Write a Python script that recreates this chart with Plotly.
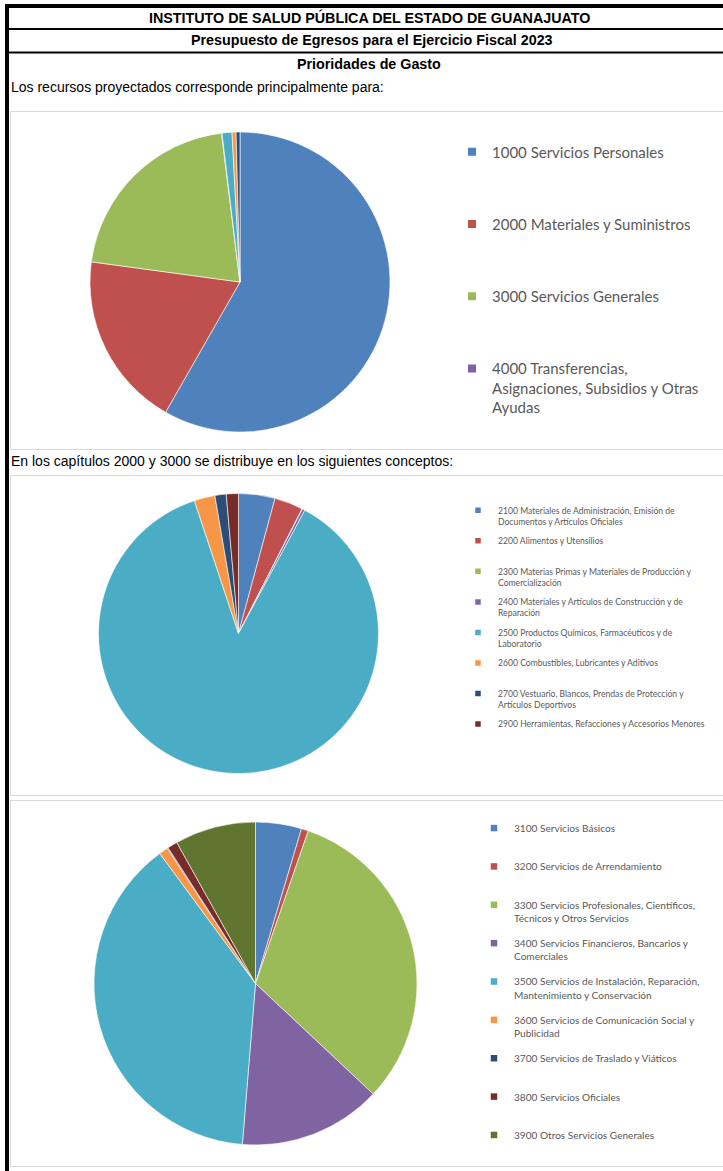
import plotly.graph_objects as go

W, H = 723, 1171

# ---------------- data ----------------
cap_labels = [
    "1000 Servicios Personales",
    "2000 Materiales y Suministros",
    "3000 Servicios Generales",
    "4000 Transferencias,<br>Asignaciones, Subsidios y Otras<br>Ayudas",
    "5000 Bienes Muebles, Inmuebles e Intangibles",
    "6000 Inversión Pública",
    "7000 Inversiones Financieras y Otras Provisiones",
]
cap_values = [58.3, 18.9, 20.9, 0.05, 1.07, 0.43, 0.42]
cap_legend_count = 4  # entries visible in the reference legend

c2000_labels = [
    "2100 Materiales de Administración, Emisión de<br>Documentos y Artículos Oficiales",
    "2200 Alimentos y Utensilios",
    "2300 Materias Primas y Materiales de Producción y<br>Comercialización",
    "2400 Materiales y Artículos de Construcción y de<br>Reparación",
    "2500 Productos Químicos, Farmacéuticos y de<br>Laboratorio",
    "2600 Combustibles, Lubricantes y Aditivos",
    "2700 Vestuario, Blancos, Prendas de Protección y<br>Artículos Deportivos",
    "2900 Herramientas, Refacciones y Accesorios Menores",
]
c2000_values = [4.2, 3.3, 0.05, 0.3, 87.0, 2.4, 1.3, 1.4]

c3000_labels = [
    "3100 Servicios Básicos",
    "3200 Servicios de Arrendamiento",
    "3300 Servicios Profesionales, Científicos,<br>Técnicos y Otros Servicios",
    "3400 Servicios Financieros, Bancarios y<br>Comerciales",
    "3500 Servicios de Instalación, Reparación,<br>Mantenimiento y Conservación",
    "3600 Servicios de Comunicación Social y<br>Publicidad",
    "3700 Servicios de Traslado y Viáticos",
    "3800 Servicios Oficiales",
    "3900 Otros Servicios Generales",
]
c3000_values = [4.6, 0.7, 31.7, 14.3, 38.6, 0.9, 0.1, 1.0, 8.1]

palette = ["#4F81BD", "#C0504D", "#9BBB59", "#8064A2", "#4BACC6",
           "#F79646", "#2C4D75", "#772C2A", "#5F7530"]

titles = [
    "INSTITUTO DE SALUD PÚBLICA DEL ESTADO DE GUANAJUATO",
    "Presupuesto de Egresos para el Ejercicio Fiscal 2023",
    "Prioridades de Gasto",
]
intro1 = "Los recursos proyectados corresponde principalmente para:"
intro2 = "En los capítulos 2000 y 3000 se distribuye en los siguientes conceptos:"

# ---------------- helpers ----------------
def fx(x):
    return x / W


def fy(y):
    return 1 - y / H


def flat(s):
    return s.replace("<br>", " ")


def pad2(s):
    return s if "<br>" in s else s + "<br>\u00a0"


fig = go.Figure()


def add_pie(labels, values, cx, cy, r):
    fig.add_trace(go.Pie(
        labels=[flat(l) for l in labels],
        values=values,
        sort=False,
        direction="clockwise",
        rotation=0,
        textinfo="none",
        showlegend=False,
        marker=dict(colors=palette[:len(values)], line=dict(color="white", width=0.6)),
        domain=dict(x=[fx(cx - r), fx(cx + r)], y=[fy(cy + r), fy(cy - r)]),
        hovertemplate="%{label}: %{percent}<extra></extra>",
    ))


def add_legend_items(names, legend_id, msize):
    for i, n in enumerate(names):
        fig.add_trace(go.Scatter(
            x=[None], y=[None], mode="markers",
            marker=dict(symbol="square", size=msize, color=palette[i]),
            name=n, legend=legend_id, legendgroup=f"{legend_id}_{i}",
            showlegend=True, hoverinfo="skip",
        ))


add_pie(cap_labels, cap_values, 240, 282, 150)
add_pie(c2000_labels, c2000_values, 238.5, 633.5, 140)
add_pie(c3000_labels, c3000_values, 255.5, 983.5, 161.5)

add_legend_items(cap_labels[:cap_legend_count], "legend", 8)
add_legend_items([pad2(l) for l in c2000_labels], "legend2", 5.5)
add_legend_items([pad2(l) for l in c3000_labels], "legend3", 6.5)


def legend_cfg(text_x, top_y, size, gap):
    return dict(
        x=fx(text_x - 40), y=fy(top_y), xanchor="left", yanchor="top",
        xref="paper", yref="paper",
        font=dict(family="Lato, Carlito, sans-serif", size=size, color="#595959"),
        tracegroupgap=gap, valign="top", bgcolor="rgba(0,0,0,0)",
        borderwidth=0, orientation="v",
    )


# ---------------- decorations ----------------
shapes = []
black = dict(type="rect", xref="paper", yref="paper", fillcolor="black",
             line=dict(width=0), layer="above")
for (x0, y0, x1, y1) in [(5, 4, W, 8), (5, 4, 9, H), (5, 28, W, 30), (5, 51.5, W, 53.5)]:
    shapes.append(dict(black, x0=fx(x0), x1=fx(x1), y0=fy(y1), y1=fy(y0)))
for (y0, y1) in [(111.5, 449.5), (475.5, 795.5), (800.5, 1166.5)]:
    shapes.append(dict(type="rect", xref="paper", yref="paper",
                       x0=fx(10.5), x1=fx(W + 20), y0=fy(y1), y1=fy(y0),
                       line=dict(color="#D9D9D9", width=1), fillcolor="rgba(0,0,0,0)",
                       layer="above"))

annotations = []
for t, x, y in zip(titles, [370, 372, 369], [17.5, 40.5, 63.5]):
    annotations.append(dict(text=f"<b>{t}</b>", x=fx(x), y=fy(y), xref="paper", yref="paper",
                            xanchor="center", yanchor="middle", showarrow=False,
                            font=dict(family="Liberation Sans, Arial", size=14.3, color="black")))
for t, y in [(intro1, 87), (intro2, 461)]:
    annotations.append(dict(text=t, x=fx(8.5), y=fy(y), xref="paper", yref="paper",
                            xanchor="left", yanchor="middle", showarrow=False,
                            font=dict(family="Liberation Sans, Arial", size=14, color="black")))

fig.update_layout(
    width=W, height=H,
    margin=dict(l=0, r=0, t=0, b=0),
    paper_bgcolor="white", plot_bgcolor="rgba(0,0,0,0)",
    xaxis=dict(visible=False), yaxis=dict(visible=False),
    legend=legend_cfg(492, 135.4, 15, 49.8),
    legend2=legend_cfg(498, 498.2, 8.6, 5.17),
    legend3=legend_cfg(514, 815, 10.1, 9.1),
    shapes=shapes,
    annotations=annotations,
    hovermode="closest",
)

fig.write_html(
    "out.html",
    config={"displayModeBar": False},
    post_script=(
        "document.body.style.margin='0';"
        "document.body.style.overflow='hidden';"
        "document.documentElement.style.overflow='hidden';"
    ),
)
